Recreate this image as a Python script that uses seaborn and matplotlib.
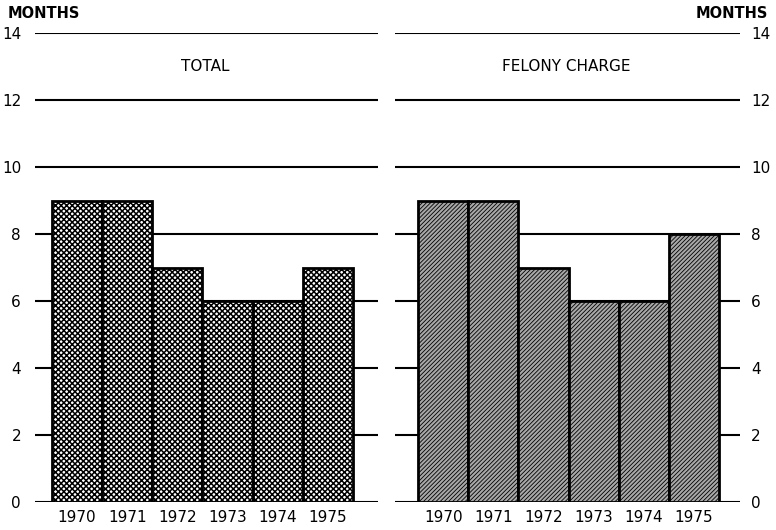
import matplotlib
matplotlib.use("Agg")
import matplotlib.pyplot as plt
import seaborn as sns

years = ["1970", "1971", "1972", "1973", "1974", "1975"]
total_months = [9, 9, 7, 6, 6, 7]
felony_months = [9, 9, 7, 6, 6, 8]
y_ticks = [0, 2, 4, 6, 8, 10, 12, 14]

sns.set_style("white")
plt.rcParams["font.family"] = ["DejaVu Sans"]
plt.rcParams["text.color"] = "black"
plt.rcParams["xtick.color"] = "black"
plt.rcParams["ytick.color"] = "black"

fig = plt.figure(figsize=(7.76, 5.30), dpi=100)
ax1 = fig.add_axes([35 / 776, 1 - 502 / 530, 343 / 776, 469 / 530])
ax2 = fig.add_axes([395 / 776, 1 - 502 / 530, 345 / 776, 469 / 530])


def draw_panel(ax, values, title, title_x, face, hatch, hatch_lw, xlim, side):
    sns.barplot(x=years, y=values, ax=ax, width=1.0, color=face,
                edgecolor="black", linewidth=2, saturation=1, zorder=3)
    for p in ax.patches:
        p.set_hatch(hatch)
        p.set_facecolor(face)
        p._hatch_linewidth = hatch_lw
    for t in y_ticks:
        ax.axhline(t, color="black", lw=1.5, zorder=1)
    ax.set_xlim(*xlim)
    ax.set_ylim(0, 14)
    ax.set_yticks(y_ticks)
    ax.set_yticklabels([str(t) for t in y_ticks], fontsize=11)
    ax.tick_params(axis="both", length=0)
    ax.tick_params(axis="x", pad=6, labelsize=11)
    if side == "right":
        ax.yaxis.tick_right()
        ax.tick_params(axis="y", pad=8)
    else:
        ax.tick_params(axis="y", pad=10)
    for s in ax.spines.values():
        s.set_visible(False)
    ax.set_xlabel("")
    ax.set_ylabel("")
    ax.set_facecolor("none")
    ax.text(title_x, 13, title, ha="center", va="center", fontsize=11)


draw_panel(ax1, total_months, "TOTAL", 2.55, "#ffffff", "xxxxxx", 1.1,
           (-0.84, 6.0), "left")
draw_panel(ax2, felony_months, "FELONY CHARGE", 2.45, "#a8a8a8", "////////", 0.6,
           (-0.96, 5.92), "right")

fig.text(8 / 776, 1 - 13 / 530, "MONTHS", fontsize=10.5, fontweight="bold", va="center")
fig.text(768 / 776, 1 - 13 / 530, "MONTHS", fontsize=10.5, fontweight="bold",
         va="center", ha="right")

fig.savefig("out.png", dpi=100)
